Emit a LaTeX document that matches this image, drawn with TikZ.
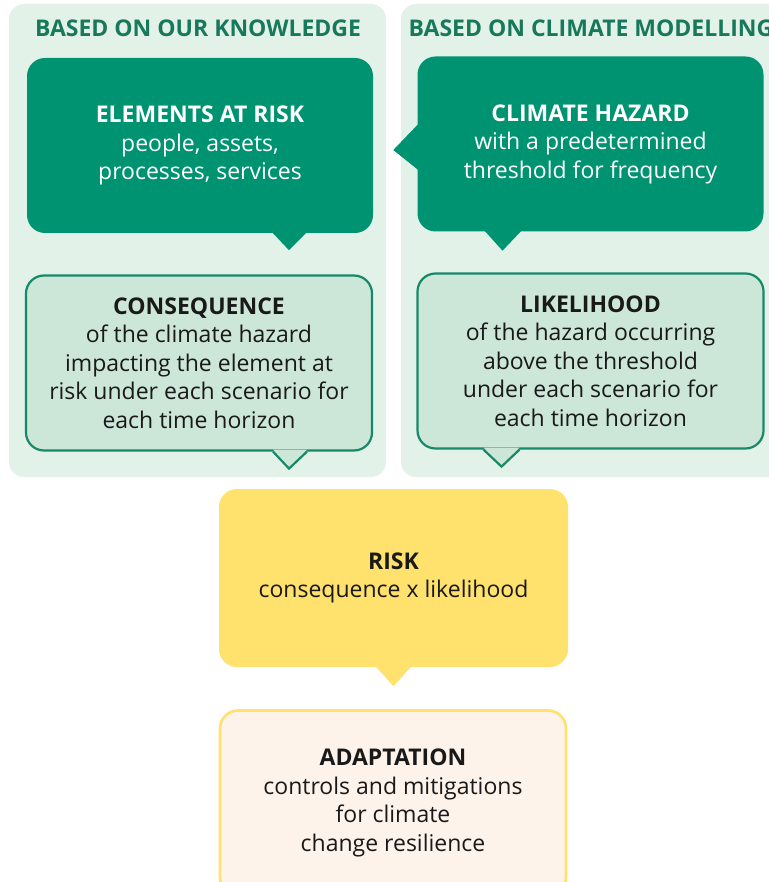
\documentclass[tikz,border=0pt]{standalone}
\usepackage{fontspec}
\setmainfont{Open Sans}
\usetikzlibrary{positioning,calc}

\definecolor{panelbg}{HTML}{E3F2E9}
\definecolor{headgreen}{HTML}{17785C}
\definecolor{hazgreen}{HTML}{009371}
\definecolor{softgreen}{HTML}{CCE6D7}
\definecolor{edgegreen}{HTML}{17896A}
\definecolor{riskyellow}{HTML}{FFE16D}
\definecolor{adaptcream}{HTML}{FEF3EA}

\begin{document}
\begin{tikzpicture}[x=1pt,y=-1pt,
    panel/.style={fill=panelbg,rounded corners=15pt},
    head/.style={text=headgreen,font=\bfseries\fontsize{23}{27}\selectfont},
    bubble/.style={rounded corners=18pt,align=center,inner sep=0pt,
        minimum width=346pt,minimum height=175pt,
        font=\fontsize{23}{28.5}\selectfont},
    dark/.style={bubble,fill=hazgreen,text=white},
    soft/.style={bubble,fill=softgreen,draw=edgegreen,line width=2.2pt,text=black!90},
    riskbox/.style={bubble,fill=riskyellow,text=black!90},
    adaptbox/.style={bubble,fill=adaptcream,draw=riskyellow,line width=2.6pt,text=black!90}]
   \useasboundingbox (0,0) rectangle (768,882);

   % two background panels
   \fill[panel] (9,4) rectangle (386,477);
   \fill[panel] (401,4) rectangle (800,477);
   \node[head] (knowhead) at (198,28) {BASED ON OUR KNOWLEDGE};
   \node[head] (modelhead) at (591,28) {BASED ON CLIMATE MODELLING};

   % top row
   \node[dark] (elements) at (200,145.5)
      {\textbf{ELEMENTS AT RISK}\\people, assets,\\processes, services};
   \node[dark] (hazard) at (590.5,144)
      {\textbf{CLIMATE HAZARD}\\with a predetermined\\threshold for frequency};
   \fill[hazgreen] ($(elements.south)+(72,-1)$) -- ($(elements.south)+(89,17)$)
      -- ($(elements.south)+(107,-1)$) -- cycle;
   \fill[hazgreen] ($(hazard.south)+(-106,-1)$) -- ($(hazard.south)+(-88,19)$)
      -- ($(hazard.south)+(-69,-1)$) -- cycle;
   \fill[hazgreen] ($(hazard.west)+(1,-20)$) -- ($(hazard.west)+(-24,6)$)
      -- ($(hazard.west)+(1,26)$) -- cycle;

   % second row
   \node[soft] (conseq) at (199,363)
      {\textbf{CONSEQUENCE}\\of the climate hazard\\impacting the element at\\risk under each scenario for\\each time horizon};
   \node[soft] (likely) at (590.5,361)
      {\textbf{LIKELIHOOD}\\of the hazard occurring\\above the threshold\\under each scenario for\\each time horizon};
   \fill[softgreen] ($(conseq.south)+(74,-2)$) -- ($(conseq.south)+(90,17)$)
      -- ($(conseq.south)+(108,-2)$) -- cycle;
   \draw[edgegreen,line width=2.2pt,line join=miter] ($(conseq.south)+(74,0)$)
      -- ($(conseq.south)+(90,17)$) -- ($(conseq.south)+(108,0)$);
   \fill[softgreen] ($(likely.south)+(-107,-2)$) -- ($(likely.south)+(-89,17)$)
      -- ($(likely.south)+(-71,-2)$) -- cycle;
   \draw[edgegreen,line width=2.2pt,line join=miter] ($(likely.south)+(-107,0)$)
      -- ($(likely.south)+(-89,17)$) -- ($(likely.south)+(-71,0)$);

   % risk and adaptation
   \node[riskbox,minimum width=349pt,minimum height=178pt] (risk) at (393.5,578)
      {\textbf{RISK}\\consequence x likelihood};
   \fill[riskyellow] ($(risk.south)+(-18,-1)$) -- ($(risk.south)+(0,19)$)
      -- ($(risk.south)+(18,-1)$) -- cycle;
   \node[adaptbox,minimum height=185pt] (adapt) at (393,803)
      {\textbf{ADAPTATION}\\controls and mitigations\\for climate\\change resilience};
\end{tikzpicture}
\end{document}
